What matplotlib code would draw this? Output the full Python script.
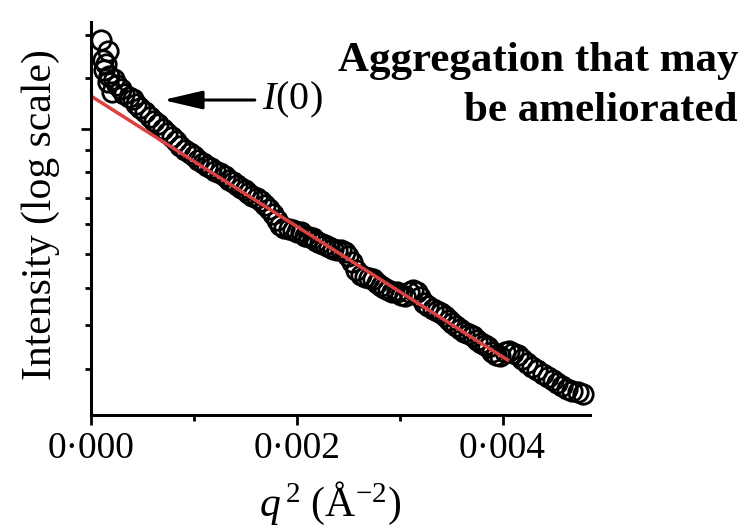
import matplotlib.pyplot as plt

plt.rcParams["font.family"] = "Liberation Serif"
plt.rcParams["mathtext.fontset"] = "custom"
plt.rcParams["mathtext.rm"] = "Liberation Serif"
plt.rcParams["mathtext.it"] = "Liberation Serif:italic"

# Guinier data: q^2 (1/A^2) and log10 intensity (arb.)
q2 = [
    0.00010, 0.00017, 0.00012, 0.00015, 0.00013, 0.00018, 0.00017, 0.00022,
    0.00025, 0.00020, 0.00029, 0.00032, 0.00037, 0.00041, 0.00044, 0.00048,
    0.00053, 0.00057, 0.00061, 0.00065, 0.00070, 0.00074, 0.00079, 0.00083,
    0.00087, 0.00091, 0.00096, 0.00100, 0.00104, 0.00109, 0.00113, 0.00117,
    0.00121, 0.00125, 0.00130, 0.00134, 0.00138, 0.00142, 0.00146, 0.00150,
    0.00153, 0.00157, 0.00161, 0.00165, 0.00169, 0.00173, 0.00177, 0.00181,
    0.00184, 0.00188, 0.00192, 0.00196, 0.00200, 0.00204, 0.00208, 0.00212,
    0.00216, 0.00219, 0.00223, 0.00227, 0.00231, 0.00235, 0.00239, 0.00243,
    0.00247, 0.00250, 0.00254, 0.00258, 0.00262, 0.00266, 0.00270, 0.00274,
    0.00278, 0.00282, 0.00285, 0.00289, 0.00293, 0.00297, 0.00301, 0.00305,
    0.00309, 0.00313, 0.00317, 0.00320, 0.00324, 0.00328, 0.00332, 0.00336,
    0.00340, 0.00344, 0.00348, 0.00351, 0.00355, 0.00359, 0.00363, 0.00367,
    0.00371, 0.00375, 0.00379, 0.00383, 0.00386, 0.00390, 0.00394, 0.00398,
    0.00402, 0.00406, 0.00410, 0.00415, 0.00419, 0.00424, 0.00429, 0.00434,
    0.00439, 0.00444, 0.00449, 0.00453, 0.00458, 0.00463, 0.00468, 0.00473,
    0.00478,
]
log_i = [
    1.875, 1.820, 1.775, 1.755, 1.725, 1.695, 1.665, 1.680,
    1.650, 1.615, 1.630, 1.605, 1.590, 1.580, 1.555, 1.535,
    1.515, 1.490, 1.470, 1.455, 1.430, 1.410, 1.390, 1.370,
    1.345, 1.325, 1.310, 1.295, 1.275, 1.260, 1.245, 1.235,
    1.220, 1.210, 1.195, 1.175, 1.165, 1.150, 1.135, 1.125,
    1.110, 1.095, 1.085, 1.070, 1.050, 1.030, 1.005, 0.975,
    0.950, 0.935, 0.930, 0.925, 0.915, 0.915, 0.895, 0.890,
    0.885, 0.870, 0.860, 0.850, 0.840, 0.830, 0.825, 0.825,
    0.815, 0.795, 0.765, 0.725, 0.700, 0.690, 0.685, 0.680,
    0.660, 0.645, 0.635, 0.625, 0.615, 0.615, 0.600, 0.595,
    0.615, 0.625, 0.615, 0.590, 0.560, 0.545, 0.530, 0.520,
    0.510, 0.495, 0.475, 0.460, 0.445, 0.430, 0.415, 0.405,
    0.395, 0.375, 0.360, 0.350, 0.340, 0.315, 0.300, 0.295,
    0.315, 0.320, 0.310, 0.300, 0.280, 0.260, 0.240, 0.225,
    0.205, 0.190, 0.175, 0.160, 0.145, 0.130, 0.120, 0.115,
    0.105,
]

# linear Guinier fit (end points)
fit_q2 = [0.0, 0.00405]
fit_log_i = [1.595, 0.275]

x_ticks = [0.0, 0.002, 0.004]
x_tick_labels = ["0·000", "0·002", "0·004"]
x_minor = [0.001, 0.003]
y_major = [1.43]
y_minor = [0.23, 0.45, 0.635, 0.805, 0.955, 1.085, 1.215, 1.325, 1.685, 1.90]

fig = plt.figure(figsize=(7.45, 5.32), dpi=100)
ax = fig.add_axes([0.1221, 0.2199, 0.6698, 0.7387])

ax.plot(q2, log_i, "o", mfc="none", mec="black", ms=14, mew=2.0,
        linestyle="none", clip_on=False)
ax.plot(fit_q2, fit_log_i, color="#dd4040", lw=2.5)

ax.set_xlim(0, 0.00485)
ax.set_ylim(0, 1.965)

ax.spines["top"].set_visible(False)
ax.spines["right"].set_visible(False)
ax.spines["left"].set_linewidth(2.2)
ax.spines["bottom"].set_linewidth(2.2)

ax.set_xticks(x_ticks)
ax.set_xticklabels(x_tick_labels)
ax.set_xticks(x_minor, minor=True)
ax.set_yticks(y_major)
ax.set_yticks(y_minor, minor=True)
ax.tick_params(axis="x", which="major", length=7, width=2, labelsize=27, pad=5)
ax.tick_params(axis="x", which="minor", length=4.5, width=2)
ax.tick_params(axis="y", which="major", length=7, width=2, labelleft=False)
ax.tick_params(axis="y", which="minor", length=4.5, width=2)

ax.set_ylabel("Intensity (log scale)", fontsize=30)
ax.yaxis.set_label_coords(-0.062, 0.509)
ax.set_xlabel(r"$q^{\,2}$ (Å$^{-2}$)", fontsize=30)
ax.xaxis.set_label_coords(0.48, -0.165)

ax.annotate(r"$I$(0)", xy=(0.0007, 1.575), xytext=(0.00166, 1.575),
            fontsize=29, va="center", ha="left",
            arrowprops=dict(arrowstyle="-|>,head_length=1.2,head_width=0.28",
                            color="black", lw=2.2, mutation_scale=20,
                            shrinkA=3, shrinkB=0))

fig.text(0.9906, 0.838, "Aggregation that may\nbe ameliorated",
         fontsize=31, fontweight="bold", ha="right", va="center",
         multialignment="right", linespacing=1.4)

fig.savefig("out.png", dpi=100)
